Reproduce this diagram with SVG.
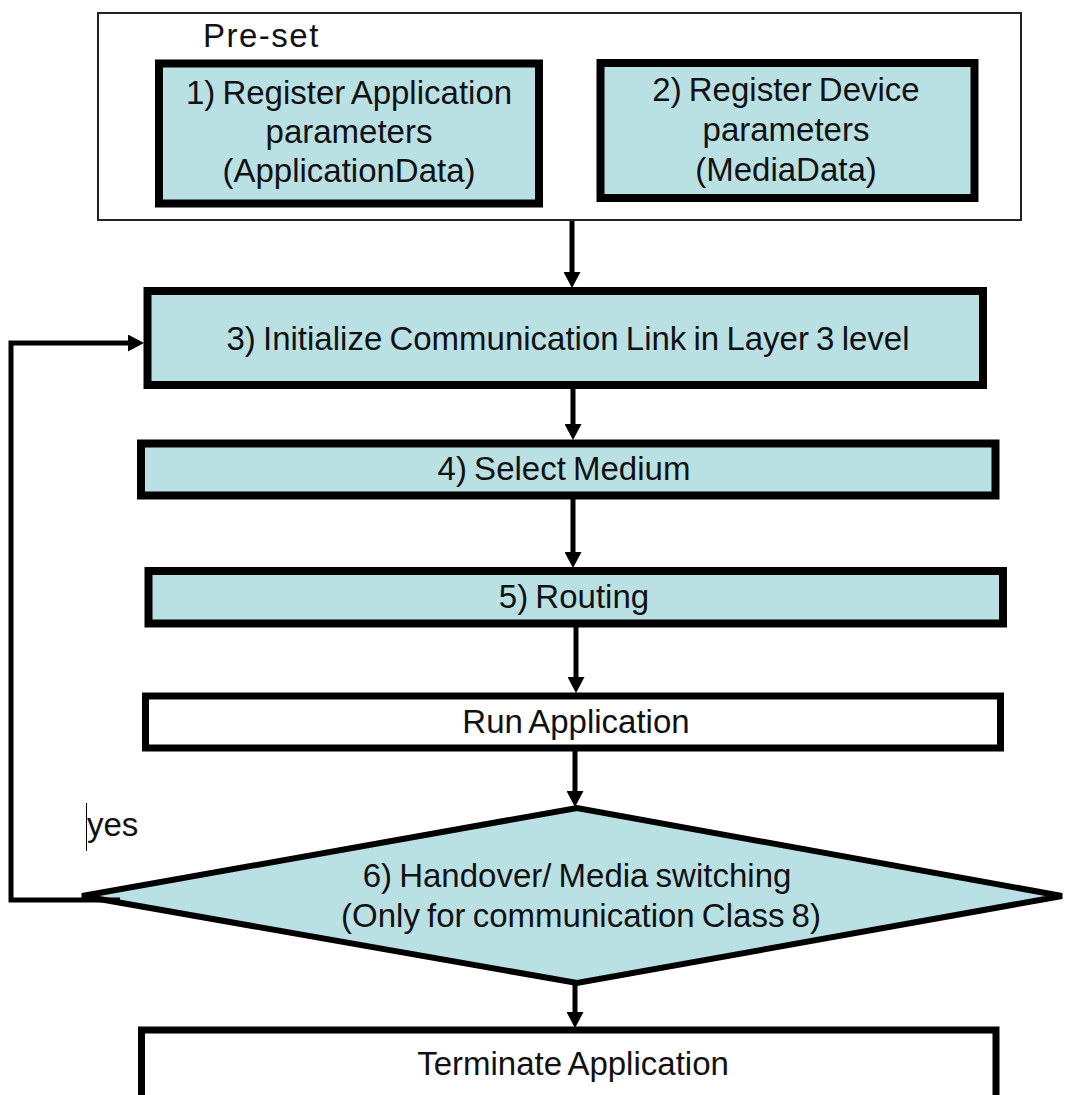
<svg xmlns="http://www.w3.org/2000/svg" width="1067" height="1095" viewBox="0 0 1067 1095">
<style>
  .t{font-family:"Liberation Sans",Arial,sans-serif;font-size:33px;fill:#111;text-anchor:middle;word-spacing:-2px}
  .tl{font-family:"Liberation Sans",Arial,sans-serif;font-size:33px;fill:#111}
  .blue{fill:#b9e0e3;stroke:#000;stroke-width:8}
  .white{fill:#fff;stroke:#000;stroke-width:7}
  .conn{fill:none;stroke:#000;stroke-width:5}
</style>
<defs>
  <marker id="ah" markerUnits="userSpaceOnUse" markerWidth="17" markerHeight="17" refX="1" refY="8.5" orient="auto" viewBox="0 0 17 17">
    <path d="M0,0 L16,8.5 L0,17 z" fill="#000"/>
  </marker>
</defs>
<rect width="1067" height="1095" fill="#fff"/>
<g id="preset">
  <rect x="98" y="13" width="923" height="207" fill="#fff" stroke="#222" stroke-width="2"/>
  <text class="tl" x="203" y="47" letter-spacing="1.5">Pre-set</text>
</g>
<g id="node1">
  <rect class="blue" x="159" y="63.5" width="380" height="140"/>
  <text class="t" x="349" y="104">1) Register Application</text>
  <text class="t" x="349" y="143">parameters</text>
  <text class="t" x="349" y="182">(ApplicationData)</text>
</g>
<g id="node2">
  <rect class="blue" x="600.5" y="63" width="374" height="135"/>
  <text class="t" x="786" y="101">2) Register Device</text>
  <text class="t" x="786" y="141">parameters</text>
  <text class="t" x="786" y="181">(MediaData)</text>
</g>
<g id="node3">
  <rect class="blue" x="147.5" y="291" width="835.5" height="94"/>
  <text class="t" x="568" y="350">3) Initialize Communication Link in Layer 3 level</text>
</g>
<g id="node4">
  <rect class="blue" x="141" y="443.5" width="854.5" height="52"/>
  <text class="t" x="564" y="480">4) Select Medium</text>
</g>
<g id="node5">
  <rect class="blue" x="148.5" y="571" width="854.5" height="52.5"/>
  <text class="t" x="574" y="608">5) Routing</text>
</g>
<g id="run">
  <rect class="white" x="145.5" y="696" width="855" height="52"/>
  <text class="t" x="576" y="733">Run Application</text>
</g>
<g id="decision">
  <polygon points="82,896 577,808 1062,896 577,983" fill="#b9e0e3" stroke="#000" stroke-width="6" stroke-linejoin="miter"/>
  <text class="t" x="577" y="887">6) Handover/ Media switching</text>
  <text class="t" x="581" y="927">(Only for communication Class 8)</text>
</g>
<g id="terminate">
  <rect class="white" x="141.5" y="1030" width="854.5" height="90"/>
  <text class="t" x="573" y="1075">Terminate Application</text>
</g>
<g id="connectors">
  <line class="conn" x1="572" y1="221" x2="572" y2="273" marker-end="url(#ah)"/>
  <line class="conn" x1="573" y1="389" x2="573" y2="425" marker-end="url(#ah)"/>
  <line class="conn" x1="573" y1="499" x2="573" y2="553" marker-end="url(#ah)"/>
  <line class="conn" x1="576" y1="627" x2="576" y2="678" marker-end="url(#ah)"/>
  <line class="conn" x1="575" y1="751" x2="575" y2="792" marker-end="url(#ah)"/>
  <line class="conn" x1="575" y1="985" x2="575" y2="1013" marker-end="url(#ah)"/>
  <polyline class="conn" points="120,900 11,900 11,343 129,343" marker-end="url(#ah)"/>
  <text class="tl" x="87" y="836">yes</text>
  <line x1="86.5" y1="803" x2="86.5" y2="851" stroke="#000" stroke-width="1"/>
</g>
</svg>
